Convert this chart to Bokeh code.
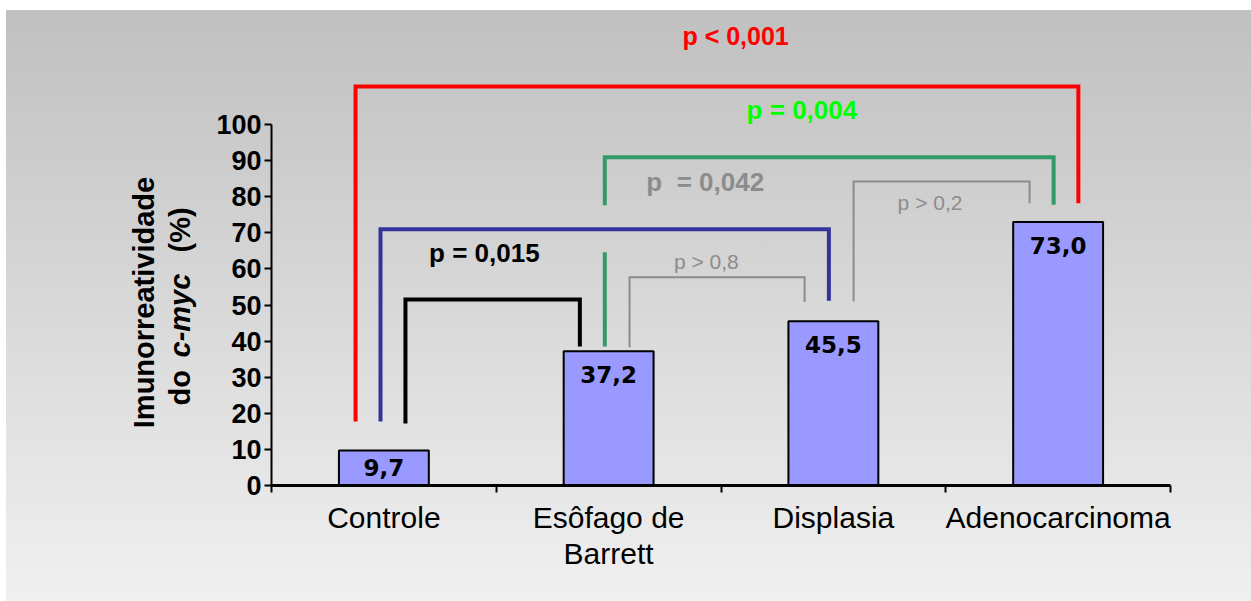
import numpy as np
from bokeh.plotting import figure
from bokeh.models import Range1d, FixedTicker, ColumnDataSource
from bokeh.core.properties import value
from bokeh.embed import file_html
from bokeh.resources import INLINE

# ---------------- data ----------------
categories = ["Controle", "Esôfago de\nBarrett", "Displasia", "Adenocarcinoma"]
percent = [9.7, 37.2, 45.5, 73.0]
percent_labels = ["9,7", "37,2", "45,5", "73,0"]
y_ticks = [0, 10, 20, 30, 40, 50, 60, 70, 80, 90, 100]

# pairwise comparisons (group index left / right) and their p-value texts
cmp_left = [0, 1, 0, 0, 1, 2]
cmp_right = [3, 3, 2, 1, 2, 3]
cmp_p = ["p < 0,001", "p = 0,004", "p\u00a0 = 0,042", "p = 0,015", "p > 0,8", "p > 0,2"]

# ---------------- layout / styling of the annotations ----------------
# (offset of left leg from bar centre, offset of right leg, left leg end, right leg end, bracket top)
bracket_geom = [
    (-0.126, 0.090, 17.7, 78.2, 110.5),
    (-0.017, -0.020, 77.6, 77.8, 90.9),
    (-0.015, -0.020, 17.7, 51.2, 71.0),
    (0.096, -0.128, 17.2, 38.5, 51.5),
    (0.093, -0.128, 38.3, 50.8, 57.7),
    (0.090, -0.127, 51.0, 78.2, 84.2),
]
bracket_color = ["#ff0000", "#339966", "#333399", "#000000", "#8c8c8c", "#8c8c8c"]
bracket_width = [4, 4, 4, 4, 2, 2]
# text placement (x in category units, y in data units)
ptext_pos = [(2.065, 124.4), (2.36, 103.9), (1.93, 84.2), (0.947, 64.4), (1.935, 62.0), (2.93, 78.5)]
ptext_color = ["#ff0000", "#00ff00", "#8c8c8c", "#000000", "#8c8c8c", "#8c8c8c"]
ptext_style = ["bold", "bold", "bold", "bold", "normal", "normal"]
ptext_size = ["25px", "26px", "26px", "26px", "21px", "21px"]

FONT = "Liberation Sans"
PX_X = 224.75   # pixels per category
PX_Y = 3.61     # pixels per percent
W, H = 1245, 591
AXIS_LEFT = 265           # pixels left of the y axis
BELOW = 116               # pixels below the x axis

centers = [i + 0.5 for i in range(len(categories))]

p = figure(width=W, height=H,
           x_range=Range1d(-AXIS_LEFT / PX_X, (W - AXIS_LEFT) / PX_X),
           y_range=Range1d(-BELOW / PX_Y, (H - BELOW) / PX_Y),
           output_backend="svg", toolbar_location=None,
           min_border_left=0, min_border_right=0,
           min_border_top=0, min_border_bottom=0)
p.margin = (10, 0, 0, 6)
p.background_fill_color = None
p.border_fill_color = None
p.outline_line_color = None
p.styles = {"background": "linear-gradient(to bottom, #c0c0c0 0%, #f0f0f0 100%)"}
p.xgrid.visible = False
p.ygrid.visible = False

# bars
src = ColumnDataSource(dict(x=centers, top=percent, lab=percent_labels,
                            ly=[max(v - 6.5, v / 2) for v in percent]))
p.vbar(x="x", top="top", width=0.4, bottom=0, source=src,
       fill_color="#9999ff", line_color="black", line_width=2)
p.text(x="x", y="ly", text="lab", source=src, text_align="center",
       text_baseline="middle", text_font=value("DejaVu Sans"),
       text_font_style="bold", text_font_size="23px", text_color="black")

# brackets
for i in range(len(cmp_p)):
    dl, dr, yl, yr, top = bracket_geom[i]
    xl = centers[cmp_left[i]] + dl
    xr = centers[cmp_right[i]] + dr
    p.line([xl, xl, xr, xr], [yl, top, top, yr], line_color=bracket_color[i],
           line_width=bracket_width[i], line_join="miter")
    if i == 1:
        # lower part of the green left leg (interrupted around the p-value text)
        p.line([xl, xl], [percent[cmp_left[i]] + 1.3, 64.6], line_color=bracket_color[i],
               line_width=bracket_width[i])
    tx, ty = ptext_pos[i]
    p.text(x=[tx], y=[ty], text=[cmp_p[i]], text_align="center", text_baseline="middle",
           text_font=value(FONT), text_font_style=ptext_style[i],
           text_font_size=ptext_size[i], text_color=ptext_color[i])

# x axis, drawn at y = 0
xa = p.xaxis[0]
xa.fixed_location = 0
xa.ticker = FixedTicker(ticks=centers, minor_ticks=[0, 1, 2, 3, 4])
xa.major_label_overrides = {c: lab for c, lab in zip(centers, categories)}
xa.bounds = (0, 4)
xa.major_tick_out = 0
xa.major_tick_in = 0
xa.minor_tick_out = 7
xa.minor_tick_in = 0
xa.minor_tick_line_width = 2
xa.minor_tick_line_color = "black"
xa.axis_line_width = 3
xa.axis_line_color = "black"
xa.major_label_text_font = FONT
xa.major_label_text_font_size = "30px"
xa.major_label_text_color = "black"
xa.major_label_text_line_height = 1.1
xa.major_label_standoff = 8

# y axis, drawn at x = 0
ya = p.yaxis[0]
ya.fixed_location = 0
ya.ticker = FixedTicker(ticks=y_ticks)
ya.bounds = (0, 100)
ya.major_tick_out = 7
ya.major_tick_in = 0
ya.major_tick_line_width = 2
ya.major_tick_line_color = "black"
ya.minor_tick_line_color = None
ya.axis_line_width = 2
ya.axis_line_color = "black"
ya.major_label_text_font = FONT
ya.major_label_text_font_style = "bold"
ya.major_label_text_font_size = "27px"
ya.major_label_text_color = "black"
ya.major_label_standoff = 3

# y axis title (two lines, c-myc in italics)
title_common = dict(angle=np.pi / 2, text_font=value(FONT), text_font_size="29px",
                    text_color="black", text_baseline="middle")
p.text(x=[-128 / PX_X], y=[183 / PX_Y], text=["Imunorreatividade"], text_align="center",
       text_font_style="bold", **title_common)
p.text(x=[-92 / PX_X], y=[80 / PX_Y], text=["do"], text_align="left",
       text_font_style="bold", **title_common)
p.text(x=[-92 / PX_X], y=[128 / PX_Y], text=["c-myc"], text_align="left",
       text_font_style="bold italic", **title_common)
p.text(x=[-92 / PX_X], y=[233 / PX_Y], text=["(%)"], text_align="left",
       text_font_style="bold", **title_common)

open("out.html", "w").write(file_html(p, INLINE))
